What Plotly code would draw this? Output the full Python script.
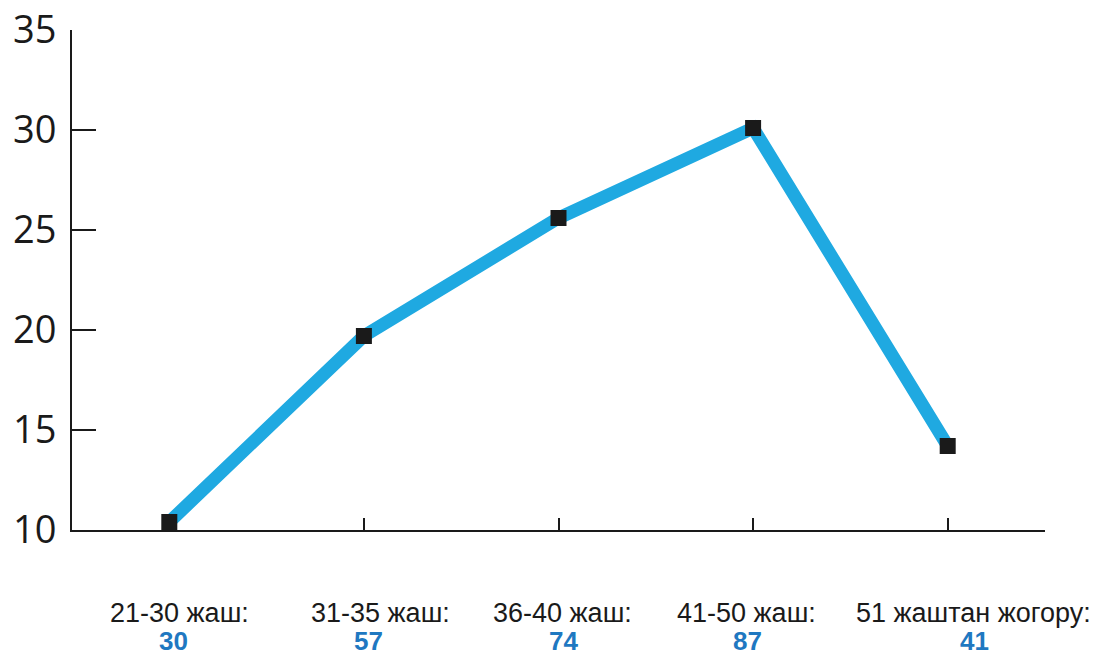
import plotly.graph_objects as go

categories = ["21-30 жаш:", "31-35 жаш:", "36-40 жаш:", "41-50 жаш:", "51 жаштан жогору:"]
counts = [30, 57, 74, 87, 41]
values = [10.4, 19.7, 25.6, 30.1, 14.2]
y_ticks = [10, 15, 20, 25, 30, 35]

# small horizontal nudges (pixels) of the bottom labels, as placed in the original
label_shift = [10, 17, 4, -7, 26]
count_shift = [4, 5, 5, -6, 27]

xs = list(range(len(categories)))

fig = go.Figure()
fig.add_trace(go.Scatter(
    x=xs, y=values, mode="lines+markers",
    line=dict(color="#1fa9e1", width=13),
    marker=dict(symbol="square", size=16, color="#1a1a1a"),
    cliponaxis=False, showlegend=False,
))

for x, c, n, ls, cs in zip(xs, categories, counts, label_shift, count_shift):
    fig.add_annotation(
        x=x, y=-0.166, xref="x", yref="paper", text=c, xshift=ls,
        showarrow=False, yanchor="middle", xanchor="center",
        font=dict(family="Liberation Sans, Arial, sans-serif", size=27, color="#1a1a1a"),
    )
    fig.add_annotation(
        x=x, y=-0.222, xref="x", yref="paper", text=f"<b>{n}</b>", xshift=cs,
        showarrow=False, yanchor="middle", xanchor="center",
        font=dict(family="Liberation Sans, Arial, sans-serif", size=26, color="#1f78c1"),
    )

fig.update_layout(
    width=1095, height=655,
    margin=dict(l=72, r=50, t=30, b=125),
    paper_bgcolor="white", plot_bgcolor="white",
    xaxis=dict(
        range=[-0.5, 4.5], tickmode="array", tickvals=xs, showticklabels=False,
        automargin=False,
        showgrid=False, zeroline=False, showline=True, linecolor="#1a1a1a", linewidth=2,
        ticks="inside", ticklen=12, tickwidth=2, tickcolor="#1a1a1a",
        tickson="boundaries",
    ),
    yaxis=dict(
        range=[10, 35], tickmode="array", tickvals=y_ticks,
        automargin=False, ticklabeloverflow="allow",
        showgrid=False, zeroline=False, showline=True, linecolor="#1a1a1a", linewidth=2,
        ticks="inside", ticklen=24, tickwidth=2, tickcolor="#1a1a1a",
        ticklabelstandoff=6,
        tickfont=dict(family="Open Sans, sans-serif", size=38, color="#1a1a1a"),
    ),
)

fig.write_html(
    "out.html",
    config={"displayModeBar": False},
    post_script="document.body.style.margin='0';document.body.style.overflow='hidden';",
)
